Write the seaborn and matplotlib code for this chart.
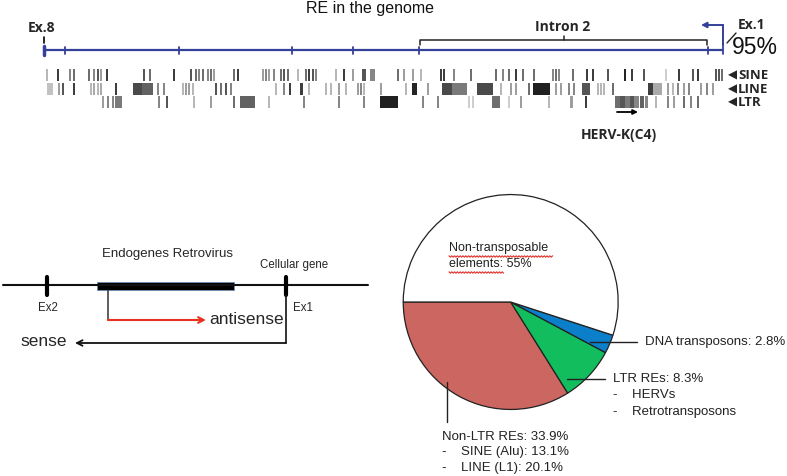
import numpy as np
import matplotlib
matplotlib.use("Agg")
import matplotlib.pyplot as plt
import seaborn as sns

sns.set_theme(style="white")
plt.rcParams['font.family'] = ['Liberation Sans', 'DejaVu Sans']

# ---------------- data ----------------
# repeat-element tracks (position along the locus, width, darkness 0..1)
SINE_POS = [46, 57, 69, 73, 88, 93, 97, 100, 106, 143, 149, 173, 190, 195, 198, 202, 207, 210, 213,
            233, 237, 262, 265, 268, 273, 280, 283, 287, 297, 305, 308, 312, 315, 335, 343, 352, 362,
            370, 397, 403, 412, 420, 440, 443, 453, 470, 495, 502, 508, 515, 522, 533, 552, 555, 558,
            572, 586, 592, 607, 624, 631, 643, 665, 678, 692, 697, 715, 718, 721]
SINE_WID = [2.0] * 36 + [4, 5] + [2.0] * 31
SINE_SHADE = [0.3, 0.8, 0.5, 0.6, 0.6, 0.5, 0.7, 0.4, 0.8, 0.7, 0.6, 0.8, 0.7, 0.6, 0.5, 0.6, 0.5, 0.6, 0.4,
              0.6, 0.8, 0.4, 0.5, 0.4, 0.5, 0.6, 0.7, 0.6, 0.3, 0.6, 0.8, 0.7, 0.5, 0.3, 0.8, 0.4, 0.7,
              0.5, 0.6, 0.4, 0.4, 0.3, 0.8, 0.8, 0.5, 0.6, 0.6, 0.5, 0.6, 0.8, 0.6, 0.6, 0.5, 0.6, 0.5,
              0.6, 0.8, 0.8, 0.7, 0.9, 0.8, 0.7, 0.2, 0.8, 0.7, 0.8, 0.7, 0.7, 0.6]

LINE_POS = [47, 58, 62, 73, 90, 93, 97, 100, 115, 133, 142, 157, 163, 182, 185, 188, 192, 215, 220, 225,
            230, 275, 283, 289, 300, 308, 325, 330, 338, 345, 357, 360, 363, 380, 405, 412, 427, 442,
            452, 477, 500, 510, 515, 528, 533, 555, 560, 568, 573, 582, 597, 600, 603, 612, 648, 653,
            667, 672, 677, 683, 688, 700, 706, 712]
LINE_WID = [6, 2, 2, 2, 2, 2, 2, 2, 2, 9, 11, 2, 2, 2, 2, 2, 2, 2, 2, 2,
            2, 2, 2, 2, 3, 2, 2, 2, 2, 2, 2, 2, 2, 2, 2, 5, 2, 10,
            15, 16, 2, 2, 2, 2, 17, 2, 2, 2, 2, 8, 2, 2, 2, 2, 5, 9,
            2, 2, 2, 2, 2, 2, 2, 2]
LINE_SHADE = [0.25, 0.4, 0.7, 0.8, 0.3, 0.35, 0.3, 0.35, 0.8, 0.75, 0.65, 0.5, 0.5, 0.3, 0.4, 0.4, 0.3, 0.7,
              0.6, 0.7, 0.5, 0.3, 0.5, 0.8, 0.8, 0.3, 0.3, 0.3, 0.4, 0.3, 0.4, 0.5, 0.3, 0.4, 0.3, 0.9,
              0.4, 0.75, 0.55, 0.75, 0.3, 0.4, 0.4, 0.6, 0.92, 0.4, 0.4, 0.5, 0.5, 0.7, 0.3, 0.3, 0.3,
              0.6, 0.8, 0.35, 0.4, 0.3, 0.5, 0.4, 0.5, 0.4, 0.5, 0.4]

LTR_POS = [102, 107, 112, 115, 158, 166, 193, 210, 233, 240, 268, 303, 338, 363, 380, 422, 437, 468, 472,
           492, 508, 520, 548, 570, 585, 615, 620, 625, 630, 634, 640, 645, 655, 667, 673, 683, 690, 697]
LTR_WID = [2, 2, 2, 7, 2, 2, 2, 2, 2, 15, 2, 2, 2, 2, 18, 2, 2, 2, 2,
           8, 2, 2, 2, 3, 2, 5, 5, 5, 4, 5, 4, 3, 2, 2, 2, 2, 2, 2]
LTR_SHADE = [0.4, 0.5, 0.5, 0.55, 0.5, 0.7, 0.3, 0.4, 0.6, 0.65, 0.3, 0.5, 0.5, 0.5, 0.92, 0.5, 0.5, 0.2,
             0.2, 0.6, 0.2, 0.4, 0.3, 0.4, 0.8, 0.6, 0.7, 0.55, 0.7, 0.5, 0.65, 0.5, 0.3, 0.5, 0.4, 0.6,
             0.5, 0.6]

TRACK_NAMES = ["SINE", "LINE", "LTR"]
EXON_TICKS = [65, 179, 292, 353, 419, 708]

# genome composition pie
PIE_LABELS = ["Non-LTR REs", "LTR REs", "DNA transposons", "Non-transposable elements"]
PIE_VALUES = [33.9, 8.3, 2.8, 55.0]
PIE_COLORS = ["#CC6660", "#12BD5E", "#0C7FCA", "#FFFFFF"]

# ---------------- figure ----------------
fig = plt.figure(figsize=(7.87, 4.76), dpi=100)

# pie
ax_pie = fig.add_axes([(510.7 - 108) / 787, (476 - 302 - 108) / 476, 216 / 787, 216 / 476])
ax_pie.pie(PIE_VALUES, colors=PIE_COLORS, startangle=180, counterclock=True,
           wedgeprops=dict(edgecolor="#222222", linewidth=0.9))
ax_pie.set_xlim(-1.005, 1.005)
ax_pie.set_ylim(-1.005, 1.005)
ax_pie.set_aspect("equal")
ax_pie.axis("off")

# overlay in pixel coordinates
ax = fig.add_axes([0, 0, 1, 1], zorder=5)
ax.patch.set_alpha(0)
ax.set_xlim(0, 787)
ax.set_ylim(476, 0)
ax.axis("off")

CAL = ['Open Sans', 'DejaVu Sans']
navy = "#35409A"

# title
ax.text(370, 9, "RE in the genome", ha="center", va="center", fontsize=11.5, color="#111111")

# gene line
ax.plot([44, 723], [50, 50], color=navy, lw=1.6, solid_capstyle="butt")
ax.plot([44, 44], [46, 55], color=navy, lw=2.5)
for t in EXON_TICKS + [723]:
    ax.plot([t, t], [46.5, 53.5], color=navy, lw=1.3)
ax.plot([44, 44], [37, 43], color="black", lw=1.2)
ax.text(42, 28, "Ex.8", family=CAL, fontweight="bold", fontsize=10, ha="center", va="center")

# intron bracket
ax.plot([420, 420, 707, 707], [45, 40, 40, 45], color="#222222", lw=1.1)
ax.plot([564, 564], [40, 36], color="#222222", lw=1.1)
ax.text(563, 27, "Intron 2", family=CAL, fontweight="bold", fontsize=10, ha="center", va="center")

# TSS arrow and Ex.1
ax.plot([723, 723], [46, 25], color=navy, lw=1.4)
ax.annotate("", xy=(701, 25), xytext=(723, 25),
            arrowprops=dict(arrowstyle="-|>", color=navy, lw=1.4, mutation_scale=8, shrinkA=0, shrinkB=0))
ax.plot([727, 736], [43, 33], color="#222222", lw=1.0)
ax.text(738, 25, "Ex.1", family=CAL, fontweight="bold", fontsize=10, ha="left", va="center")
ax.text(732, 47, "95%", fontsize=16.5, ha="left", va="center", color="#111111")

# tracks
row_top = [68.5, 82.5, 95.5]
row_h = 12.5
for i, (pos, wid, sh) in enumerate([(SINE_POS, SINE_WID, SINE_SHADE),
                                     (LINE_POS, LINE_WID, LINE_SHADE),
                                     (LTR_POS, LTR_WID, LTR_SHADE)]):
    cols = [str(1 - s) for s in sh]
    ax.bar(pos, row_h, width=wid, bottom=row_top[i], color=cols, align="edge", linewidth=0, alpha=0.95)
    yc = row_top[i] + row_h / 2
    ax.text(728, yc + 0.5, "\u25C0", family=['DejaVu Sans'], fontsize=8.5, ha="left", va="center")
    ax.text(738, yc + 0.5, TRACK_NAMES[i], family=CAL, fontweight="bold", fontsize=9.5,
            ha="left", va="center")

ax.annotate("", xy=(638, 112), xytext=(617, 112),
            arrowprops=dict(arrowstyle="-|>", color="black", lw=1.3, mutation_scale=7, shrinkA=0, shrinkB=0))
ax.text(619, 135, "HERV-K(C4)", family=CAL, fontweight="bold", fontsize=10, ha="center", va="center")

# ---- bottom-left schematic ----
ax.plot([3, 368], [285, 285], color="#111111", lw=1.5)
ax.add_patch(plt.Rectangle((97, 281.5), 137, 8, facecolor="black", edgecolor="#6c8fb5", lw=0.6))
ax.plot([47, 47], [277, 295], color="black", lw=3)
ax.plot([286, 286], [277, 295], color="black", lw=3)
ax.text(168, 254, "Endogenes Retrovirus", fontsize=9.5, ha="center", va="center")
ax.text(294, 265, "Cellular gene", fontsize=8.3, ha="center", va="center")
ax.text(48, 308, "Ex2", fontsize=8.3, ha="center", va="center")
ax.text(303, 308, "Ex1", fontsize=8.3, ha="center", va="center")
ax.plot([108, 108], [290, 320], color="#333333", lw=1.1)
ax.annotate("", xy=(206, 320), xytext=(108, 320),
            arrowprops=dict(arrowstyle="->", color="#E8321E", lw=1.5, mutation_scale=10, shrinkA=0, shrinkB=0))
ax.text(209, 319, "antisense", fontsize=12.5, ha="left", va="center")
ax.plot([286, 286], [295, 343], color="#111111", lw=1.2)
ax.annotate("", xy=(75, 343), xytext=(286, 343),
            arrowprops=dict(arrowstyle="->", color="#111111", lw=1.3, mutation_scale=10, shrinkA=0, shrinkB=0))
ax.text(20, 342, "sense", fontsize=12.5, ha="left", va="center")

# ---- pie labels ----
ax.text(449, 248, "Non-transposable", fontsize=9, ha="left", va="center", color="#222222")
ax.text(449, 264, "elements: 55%", fontsize=9, ha="left", va="center", color="#222222")
for x0, x1, y in [(449, 554, 256.5), (449, 505, 272.5)]:
    xs = np.arange(x0, x1, 1.4)
    ys = y + 0.7 * np.where(np.arange(len(xs)) % 2 == 0, -1, 1)
    ax.plot(xs, ys, color="#E0312A", lw=0.8)

ax.plot([590, 637], [342, 342], color="#222222", lw=1.0)
ax.text(645, 342, "DNA transposons: 2.8%", fontsize=9.5, ha="left", va="center", color="#222222")
ax.plot([567, 605], [379, 379], color="#222222", lw=1.0)
ax.text(613, 379, "LTR REs: 8.3%", fontsize=9.5, ha="left", va="center", color="#222222")
ax.text(613, 395, "-    HERVs", fontsize=9.5, ha="left", va="center", color="#222222")
ax.text(613, 412, "-    Retrotransposons", fontsize=9.5, ha="left", va="center", color="#222222")
ax.plot([447, 447], [382, 422], color="#222222", lw=1.0)
ax.text(442, 437, "Non-LTR REs: 33.9%", fontsize=9.5, ha="left", va="center", color="#222222")
ax.text(442, 452, "-    SINE (Alu): 13.1%", fontsize=9.5, ha="left", va="center", color="#222222")
ax.text(442, 468, "-    LINE (L1): 20.1%", fontsize=9.5, ha="left", va="center", color="#222222")

fig.savefig("out.png", dpi=100, facecolor="white")
